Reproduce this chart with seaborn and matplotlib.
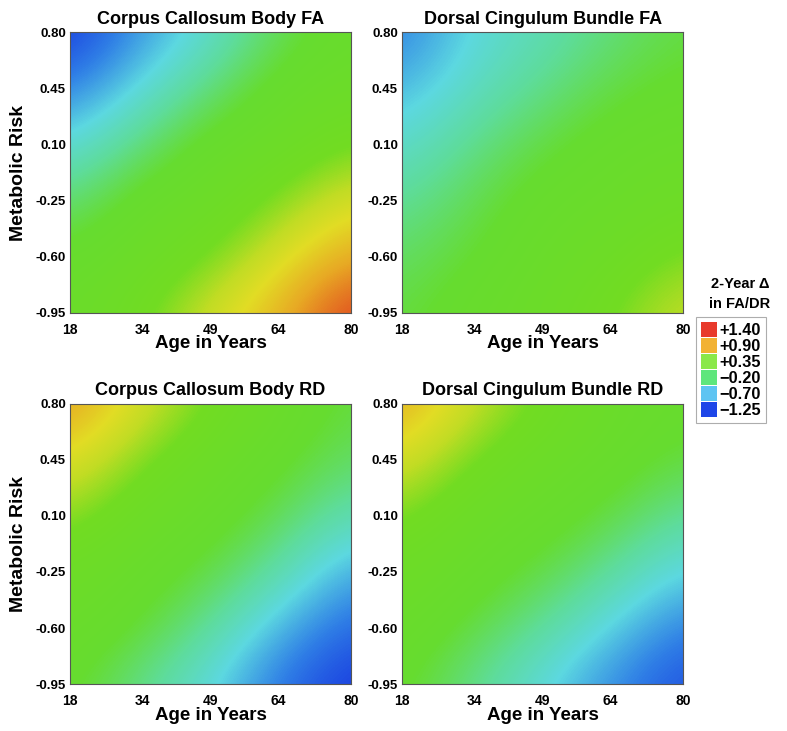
import matplotlib

matplotlib.use("Agg")

import matplotlib.pyplot as plt
import numpy as np
import seaborn as sns
from matplotlib.colors import LinearSegmentedColormap
from matplotlib.patches import Patch

# sampled values at the tick grid (rows = risk top->bottom, cols = age)
AGES = [18, 34, 49, 64, 80]
RISKS = [0.80, 0.45, 0.10, -0.25, -0.60, -0.95]

CC_FA = [
    [-1.25, -0.85, -0.55, -0.15, 0.05],
    [-0.95, -0.60, -0.25, 0.05, 0.15],
    [-0.60, -0.25, 0.05, 0.15, 0.35],
    [-0.25, 0.05, 0.15, 0.40, 0.70],
    [0.00, 0.15, 0.35, 0.70, 1.00],
    [0.10, 0.30, 0.65, 0.95, 1.38],
]
DC_FA = [
    [-0.95, -0.60, -0.45, -0.25, -0.10],
    [-0.75, -0.50, -0.30, -0.10, 0.00],
    [-0.55, -0.30, -0.10, 0.05, 0.10],
    [-0.35, -0.15, 0.05, 0.10, 0.20],
    [-0.20, -0.05, 0.10, 0.20, 0.40],
    [-0.10, 0.05, 0.15, 0.35, 0.62],
]
CC_RD = [
    [1.05, 0.68, 0.35, 0.10, -0.10],
    [0.75, 0.40, 0.15, 0.00, -0.20],
    [0.45, 0.18, 0.05, -0.15, -0.45],
    [0.20, 0.05, -0.10, -0.40, -0.80],
    [0.10, -0.05, -0.35, -0.75, -1.05],
    [0.00, -0.30, -0.60, -1.00, -1.25],
]
DC_RD = [
    [1.00, 0.62, 0.32, 0.10, 0.00],
    [0.70, 0.35, 0.15, 0.05, -0.10],
    [0.40, 0.15, 0.05, -0.10, -0.35],
    [0.20, 0.05, -0.10, -0.35, -0.65],
    [0.10, -0.10, -0.35, -0.65, -0.95],
    [0.00, -0.30, -0.60, -0.90, -1.15],
]

TITLES = [
    "Corpus Callosum Body FA",
    "Dorsal Cingulum Bundle FA",
    "Corpus Callosum Body RD",
    "Dorsal Cingulum Bundle RD",
]
LEGEND_LABELS = ["+1.40", "+0.90", "+0.35", "\u22120.20", "\u22120.70", "\u22121.25"]
LEGEND_COLORS = ["#e83a2c", "#f2b234", "#8ae84a", "#5ee67c", "#5ec4f2", "#1e46e8"]

VMIN, VMAX = -1.25, 1.40
anchors = [
    (-1.25, "#1838e0"),
    (-0.95, "#2f7ee6"),
    (-0.62, "#5cd8e0"),
    (-0.35, "#5edc9c"),
    (-0.05, "#66dc30"),
    (0.35, "#72dc22"),
    (0.58, "#c2dc24"),
    (0.75, "#e2dc24"),
    (1.00, "#e8a824"),
    (1.40, "#e03420"),
]
cmap = LinearSegmentedColormap.from_list(
    "delta", [((v - VMIN) / (VMAX - VMIN), c) for v, c in anchors]
)


def main() -> None:
    sns.set_theme(style="white")
    plt.rcParams["font.family"] = ["Liberation Sans", "DejaVu Sans"]
    for key in ["text.color", "axes.labelcolor", "xtick.color", "ytick.color"]:
        plt.rcParams[key] = "black"

    fig = plt.figure(figsize=(7.87, 7.31), dpi=100)
    lefts = [0.089, 0.511, 0.089, 0.511]
    bottoms = [0.572, 0.572, 0.064, 0.064]
    grids = [CC_FA, DC_FA, CC_RD, DC_RD]

    dx = (AGES[-1] - AGES[0]) / (len(AGES) - 1)
    dy = (RISKS[0] - RISKS[-1]) / (len(RISKS) - 1)

    for i, (grid, title) in enumerate(zip(grids, TITLES)):
        ax = fig.add_axes([lefts[i], bottoms[i], 0.357, 0.384])
        ax.imshow(
            np.array(grid),
            cmap=cmap,
            vmin=VMIN,
            vmax=VMAX,
            interpolation="bicubic",
            extent=[AGES[0] - dx / 2, AGES[-1] + dx / 2,
                    RISKS[-1] - dy / 2, RISKS[0] + dy / 2],
            aspect="auto",
        )
        ax.set_xlim(AGES[0], AGES[-1])
        ax.set_ylim(RISKS[-1], RISKS[0])
        ax.set_xticks(AGES)
        ax.set_xticklabels([str(a) for a in AGES], fontweight="bold", fontsize=10)
        ax.set_yticks(RISKS)
        ax.set_yticklabels([f"{r:.2f}" for r in RISKS], fontweight="bold", fontsize=9.5)
        ax.tick_params(axis="x", length=0, pad=7)
        ax.tick_params(axis="y", length=0, pad=3)
        ax.set_title(title, fontsize=13, fontweight="bold", pad=6)
        ax.set_xlabel("Age in Years", fontsize=13.5, fontweight="bold", labelpad=-1)
        if i % 2 == 0:
            ax.set_ylabel("Metabolic Risk", fontsize=14, fontweight="bold", labelpad=6)
        for spine in ax.spines.values():
            spine.set_color("#555555")
            spine.set_linewidth(0.8)

    fig.text(0.940, 0.575, "2-Year \u0394\nin FA/DR", ha="center", va="bottom",
             fontsize=10.5, fontweight="bold", linespacing=1.5)
    handles = [Patch(facecolor=c, edgecolor="none") for c in LEGEND_COLORS]
    leg = fig.legend(
        handles,
        LEGEND_LABELS,
        loc="upper left",
        bbox_to_anchor=(0.885, 0.566),
        frameon=True,
        fancybox=False,
        handlelength=0.95,
        handleheight=1.0,
        handletextpad=0.15,
        labelspacing=0.0,
        borderpad=0.3,
        borderaxespad=0,
        prop={"weight": "bold", "size": 11.8},
    )
    leg.get_frame().set_edgecolor("#999999")
    leg.get_frame().set_linewidth(0.8)

    fig.savefig("out.png", dpi=100)


if __name__ == "__main__":
    main()
